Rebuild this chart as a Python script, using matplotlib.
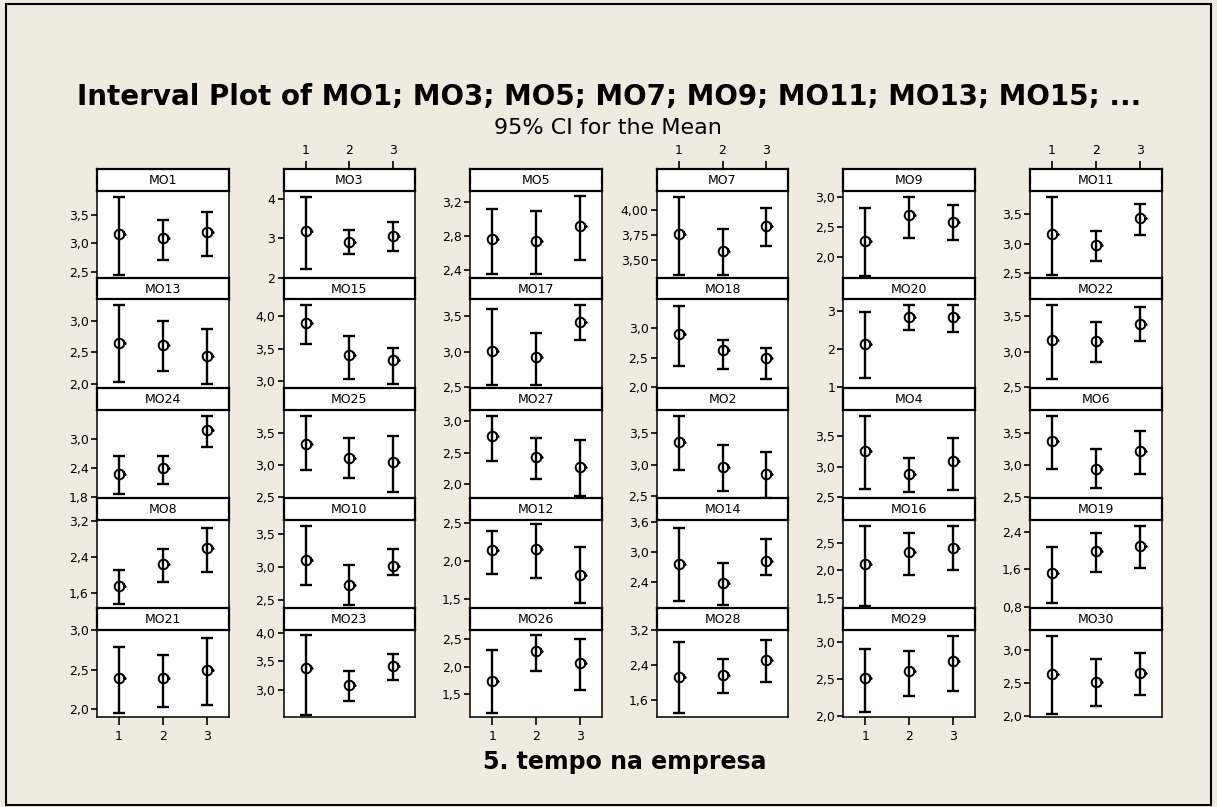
import matplotlib
matplotlib.use("Agg")
import matplotlib.pyplot as plt
import numpy as np
from matplotlib.path import Path
from matplotlib.patches import Rectangle

# panels in row-major order (5 rows x 6 columns)
panel_names = ["MO1", "MO3", "MO5", "MO7", "MO9", "MO11",
               "MO13", "MO15", "MO17", "MO18", "MO20", "MO22",
               "MO24", "MO25", "MO27", "MO2", "MO4", "MO6",
               "MO8", "MO10", "MO12", "MO14", "MO16", "MO19",
               "MO21", "MO23", "MO26", "MO28", "MO29", "MO30"]
groups = [1, 2, 3]

mean_vals = [[3.16, 3.09, 3.20], [3.18, 2.92, 3.07], [2.77, 2.74, 2.92],
             [3.76, 3.59, 3.84], [2.27, 2.70, 2.58], [3.16, 2.97, 3.44],
             [2.65, 2.62, 2.45], [3.885, 3.40, 3.33], [3.01, 2.93, 3.42],
             [2.905, 2.64, 2.50], [2.13, 2.85, 2.85], [3.16, 3.15, 3.39],
             [2.285, 2.41, 3.20], [3.33, 3.11, 3.05], [2.76, 2.42, 2.26],
             [3.37, 2.97, 2.85], [3.25, 2.88, 3.10], [3.38, 2.95, 3.22],
             [1.76, 2.24, 2.615], [3.11, 2.72, 3.02], [2.14, 2.16, 1.81],
             [2.76, 2.38, 2.82], [2.12, 2.33, 2.40], [1.52, 2.00, 2.10],
             [2.39, 2.39, 2.49], [3.39, 3.08, 3.42], [1.745, 2.29, 2.06],
             [2.12, 2.18, 2.51], [2.51, 2.60, 2.74], [2.64, 2.52, 2.65]]

ci_low = [[2.45, 2.71, 2.77], [2.21, 2.59, 2.69], [2.36, 2.36, 2.52],
          [3.35, 3.35, 3.64], [1.69, 2.32, 2.28], [2.46, 2.70, 3.14],
          [2.03, 2.21, 2.00], [3.57, 3.03, 2.96], [2.53, 2.53, 3.16],
          [2.36, 2.32, 2.15], [1.24, 2.50, 2.44], [2.62, 2.86, 3.15],
          [1.855, 2.08, 2.83], [2.93, 2.80, 2.59], [2.36, 2.08, 1.80],
          [2.92, 2.58, 2.47], [2.64, 2.58, 2.62], [2.94, 2.64, 2.87],
          [1.37, 1.84, 2.07], [2.73, 2.42, 2.87], [1.83, 1.78, 1.44],
          [2.02, 1.94, 2.54], [1.36, 1.91, 2.00], [0.88, 1.54, 1.64],
          [1.95, 2.03, 2.05], [2.56, 2.80, 3.17], [1.155, 1.92, 1.58],
          [1.30, 1.77, 2.02], [2.05, 2.26, 2.34], [2.03, 2.16, 2.32]]

ci_high = [[3.80, 3.40, 3.55], [4.05, 3.21, 3.42], [3.12, 3.10, 3.27],
           [4.13, 3.81, 4.02], [2.82, 3.00, 2.86], [3.80, 3.21, 3.68],
           [3.24, 3.00, 2.87], [4.16, 3.70, 3.505], [3.59, 3.26, 3.65],
           [3.38, 2.80, 2.66], [2.97, 3.16, 3.16], [3.65, 3.41, 3.62],
           [2.65, 2.65, 3.48], [3.76, 3.42, 3.45], [3.09, 2.74, 2.70],
           [3.78, 3.32, 3.20], [3.83, 3.14, 3.47], [3.77, 3.26, 3.53],
           [2.11, 2.585, 3.05], [3.63, 3.03, 3.27], [2.39, 2.48, 2.18],
           [3.47, 2.78, 3.26], [2.80, 2.68, 2.80], [2.08, 2.38, 2.52],
           [2.79, 2.69, 2.90], [3.96, 3.33, 3.625], [2.31, 2.58, 2.50],
           [2.92, 2.54, 2.97], [2.91, 2.88, 3.08], [3.21, 2.86, 2.95]]

y_limits = [(2.395, 3.92), (1.99, 4.22), (2.31, 3.34), (3.32, 4.19), (1.65, 3.11), (2.41, 3.91),
            (1.94, 3.33), (2.90, 4.25), (2.49, 3.73), (1.99, 3.49), (0.98, 3.30), (2.49, 3.73),
            (1.78, 3.62), (2.49, 3.86), (1.77, 3.19), (2.47, 3.88), (2.49, 3.93), (2.49, 3.87),
            (1.27, 3.24), (2.37, 3.73), (1.38, 2.545), (1.88, 3.64), (1.32, 2.92), (0.78, 2.66),
            (1.90, 3.01), (2.52, 4.06), (1.08, 2.68), (1.21, 3.21), (1.98, 3.17), (1.99, 3.30)]

y_ticks = [[2.5, 3.0, 3.5], [2, 3, 4], [2.4, 2.8, 3.2], [3.5, 3.75, 4.0], [2.0, 2.5, 3.0], [2.5, 3.0, 3.5],
           [2.0, 2.5, 3.0], [3.0, 3.5, 4.0], [2.5, 3.0, 3.5], [2.0, 2.5, 3.0], [1, 2, 3], [2.5, 3.0, 3.5],
           [1.8, 2.4, 3.0], [2.5, 3.0, 3.5], [2.0, 2.5, 3.0], [2.5, 3.0, 3.5], [2.5, 3.0, 3.5], [2.5, 3.0, 3.5],
           [1.6, 2.4, 3.2], [2.5, 3.0, 3.5], [1.5, 2.0, 2.5], [2.4, 3.0, 3.6], [1.5, 2.0, 2.5], [0.8, 1.6, 2.4],
           [2.0, 2.5, 3.0], [3.0, 3.5, 4.0], [1.5, 2.0, 2.5], [1.6, 2.4, 3.2], [2.0, 2.5, 3.0], [2.0, 2.5, 3.0]]

y_decimals = [1, 0, 1, 2, 1, 1,
              1, 1, 1, 1, 0, 1,
              1, 1, 1, 1, 1, 1,
              1, 1, 1, 1, 1, 1,
              1, 1, 1, 1, 1, 1]

W, H = 1217, 807
BG = "#EFEBE1"

fig = plt.figure(figsize=(W / 100, H / 100), dpi=100)
fig.patch.set_facecolor(BG)


def px_rect(x, y, w, h):
    return [x / W, 1 - (y + h) / H, w / W, h / H]


# mean symbol: circle with a small hook on the right
circ = Path.circle((0, 0), 1.0)
hook = Path([(0.75, 0.65), (1.3, -0.05), (0.85, -0.15)],
            [Path.MOVETO, Path.LINETO, Path.LINETO])
mean_marker = Path.make_compound_path(circ, hook)

row_tops = [169, 278, 388, 498, 608]
row_bottoms = [278, 388, 498, 608, 717]
hh = 21.5
pw = 131.5

for i, name in enumerate(panel_names):
    r, c = divmod(i, 6)
    x0 = 97 + 186.6 * c
    top = row_tops[r]

    body = fig.add_axes(px_rect(x0, top + hh, pw, row_bottoms[r] - top - hh))
    m = np.array(mean_vals[i])
    lo = np.array(ci_low[i])
    hi = np.array(ci_high[i])
    body.errorbar(groups, m, yerr=[m - lo, hi - m], fmt="none", ecolor="black",
                  elinewidth=1.7, capsize=4.6, capthick=1.7)
    body.plot(groups, m, linestyle="none", marker=mean_marker, ms=9,
              mfc="none", mec="black", mew=1.4)
    body.set_xlim(0.5, 3.5)
    body.set_ylim(*y_limits[i])
    body.set_yticks(y_ticks[i])
    d = y_decimals[i]
    body.set_yticklabels([f"{v:.{d}f}".replace(".", ",") for v in y_ticks[i]])
    body.tick_params(axis="y", direction="out", length=4, width=1.2,
                     labelsize=9, pad=2)
    if r == 4 and c % 2 == 0:
        body.set_xticks(groups)
        body.set_xticklabels(["1", "2", "3"])
        body.tick_params(axis="x", direction="out", length=6, width=1.2,
                         labelsize=9, pad=3)
    else:
        body.set_xticks([])
    for s in body.spines.values():
        s.set_linewidth(1.1)
    body.set_facecolor("white")

    hdr = fig.add_axes(px_rect(x0, top, pw, hh))
    hdr.set_xlim(0.5, 3.5)
    hdr.set_ylim(0, 1)
    hdr.set_yticks([])
    hdr.text(2, 0.45, name, ha="center", va="center", fontsize=9)
    if r == 0 and c % 2 == 1:
        hdr.xaxis.tick_top()
        hdr.set_xticks(groups)
        hdr.set_xticklabels(["1", "2", "3"])
        hdr.tick_params(axis="x", direction="out", length=6, width=1.2,
                        labelsize=9, pad=3)
    else:
        hdr.set_xticks([])
    for s in hdr.spines.values():
        s.set_linewidth(1.6)
    hdr.set_facecolor("white")

fig.text(609 / W, 1 - 97 / H, "Interval Plot of MO1; MO3; MO5; MO7; MO9; MO11; MO13; MO15; ...",
         ha="center", va="center", fontsize=20, fontweight="bold")
fig.text(608 / W, 1 - 128 / H, "95% CI for the Mean", ha="center", va="center", fontsize=16)
fig.text(625 / W, 1 - 762 / H, "5. tempo na empresa", ha="center", va="center",
         fontsize=17, fontweight="bold")

fig.patches.append(Rectangle((6 / W, 1 - 805 / H), 1205 / W, 801 / H, transform=fig.transFigure,
                             fill=False, edgecolor="black", linewidth=1.5))

fig.savefig("out.png", dpi=100, facecolor=BG)
